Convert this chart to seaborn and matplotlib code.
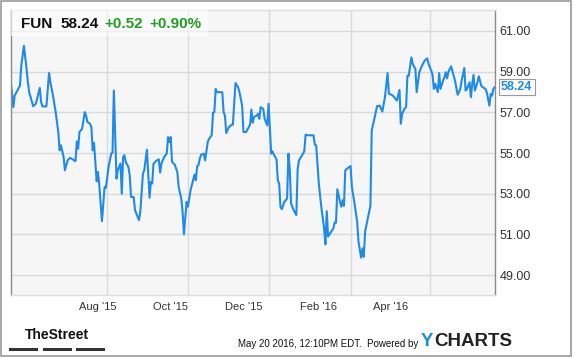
import numpy as np
import pandas as pd
import matplotlib
matplotlib.use("Agg")
import matplotlib.pyplot as plt
from matplotlib.patches import Rectangle
import seaborn as sns

# ---------------- data ----------------
ticker = "FUN"
last_price = "58.24"
change_abs = "+0.52"
change_pct = "+0.90%"
start_date = "2015-05-20"
days_since_start = [
    0, 2, 3, 7, 8, 10, 12, 13, 14, 17, 19, 22, 23, 24, 27, 29, 30, 32, 34, 36,
    37, 38, 40, 41, 43, 45, 48, 49, 50, 51, 52, 54, 56, 57, 58, 60, 61, 62, 63, 65,
    66, 67, 69, 71, 72, 74, 76, 77, 78, 79, 80, 81, 83, 84, 85, 86, 87, 89, 90, 91,
    93, 94, 97, 98, 100, 101, 103, 105, 106, 107, 108, 110, 112, 113, 114, 116, 118, 119, 120, 121,
    122, 124, 126, 127, 129, 130, 131, 133, 134, 136, 139, 140, 141, 142, 143, 144, 146, 147, 149, 150,
    152, 153, 154, 155, 156, 160, 161, 162, 163, 165, 167, 168, 170, 172, 173, 175, 176, 178, 180, 181,
    182, 183, 184, 186, 187, 188, 189, 191, 192, 194, 195, 196, 197, 198, 199, 201, 202, 203, 204, 205,
    207, 209, 210, 211, 212, 214, 216, 217, 218, 220, 222, 223, 225, 229, 230, 231, 233, 235, 237, 238,
    239, 240, 242, 244, 245, 246, 247, 249, 250, 251, 252, 253, 255, 257, 258, 260, 262, 263, 265, 266,
    267, 268, 270, 272, 273, 275, 277, 279, 281, 283, 285, 286, 288, 289, 292, 294, 295, 296, 298, 299,
    300, 301, 303, 304, 306, 307, 309, 311, 313, 315, 316, 318, 319, 320, 321, 323, 324, 325, 327, 328,
    329, 330, 331, 333, 335, 336, 338, 340, 341, 343, 344, 345, 347, 348, 349, 350, 351, 353, 354, 356,
    359, 360, 362, 363, 364, 365, 366,
]
prices = [
    58.56, 57.25, 57.82, 58.31, 59.29, 60.27, 59.13, 58.48, 57.99, 57.30, 57.42, 58.20, 57.50, 57.29, 57.29, 58.93, 58.48, 57.82, 57.01, 56.03,
    55.13, 55.38, 54.80, 54.15, 54.64, 54.76, 54.64, 54.60, 55.57, 55.21, 56.03, 56.19, 57.01, 56.84, 56.52, 56.44, 56.27, 55.13, 55.50, 53.61,
    54.07, 53.42, 51.65, 53.33, 53.29, 54.31, 54.97, 55.02, 58.07, 55.87, 53.74, 54.15, 54.48, 53.00, 54.80, 54.89, 54.56, 54.31, 53.91, 52.84,
    52.84, 52.19, 51.70, 52.11, 53.99, 54.15, 55.16, 52.80, 53.58, 53.50, 54.48, 54.61, 54.69, 54.04, 54.48, 54.80, 54.97, 55.78, 55.54, 55.78,
    54.56, 54.43, 54.07, 53.33, 52.76, 52.11, 51.00, 52.60, 52.36, 53.17, 53.94, 53.66, 54.35, 54.40, 54.72, 54.92, 54.97, 54.64, 55.54, 55.70,
    55.87, 56.98, 57.01, 58.15, 57.99, 57.99, 57.01, 56.84, 55.98, 56.27, 56.39, 56.39, 58.44, 58.23, 57.99, 57.33, 56.03, 56.03, 56.27, 56.39,
    57.14, 56.49, 56.77, 56.84, 56.93, 56.68, 57.25, 57.17, 56.68, 56.36, 57.42, 56.19, 54.97, 55.08, 54.92, 54.69, 53.66, 53.50, 52.36, 52.24,
    52.60, 52.76, 54.97, 54.23, 52.52, 52.19, 51.95, 54.23, 54.64, 54.85, 55.08, 55.90, 55.87, 55.87, 55.41, 55.38, 53.50, 52.28, 51.29, 50.51,
    52.14, 50.89, 51.10, 51.29, 51.59, 51.57, 53.22, 52.60, 52.36, 52.68, 52.40, 54.15, 54.26, 54.36, 53.33, 52.52, 51.62, 50.64, 49.86, 50.31,
    49.90, 51.13, 51.78, 52.40, 56.11, 56.68, 57.30, 57.33, 57.04, 57.74, 58.93, 57.91, 57.86, 57.82, 57.58, 58.10, 56.44, 56.93, 57.20, 57.25,
    58.80, 58.80, 59.70, 59.38, 59.13, 57.99, 58.97, 59.29, 59.54, 59.65, 59.38, 59.05, 58.84, 58.15, 58.40, 57.99, 58.93, 58.15, 58.56, 58.72,
    58.97, 58.67, 58.99, 59.26, 58.80, 58.56, 57.86, 58.15, 58.56, 59.18, 58.07, 58.15, 58.48, 57.74, 58.40, 58.84, 58.07, 58.48, 58.77, 58.28,
    58.15, 57.99, 57.33, 57.91, 57.82, 58.15, 58.24,
]
y_ticks = [49, 51, 53, 55, 57, 59, 61]
x_tick_labels = ["Aug '15", "Oct '15", "Dec '15", "Feb '16", "Apr '16"]
grid_months = ["2015-08-01", "2015-10-01", "2015-12-01", "2016-02-01", "2016-04-01"]
footer_text = "May 20 2016, 12:10PM EDT.  Powered by"

# ---------------- style ----------------
sns.set_theme(style="white")
plt.rcParams["font.family"] = ["Liberation Sans", "DejaVu Sans"]

W, H = 575, 358
fig = plt.figure(figsize=(W / 100, H / 100), dpi=100)
fig.patch.set_facecolor("white")

def fx(px):
    return px / W

def fy(py):
    return 1 - py / H

ax_l, ax_r, ax_t, ax_b = 10.7, 494.7, 10, 295
ax = fig.add_axes([fx(ax_l), fy(ax_b), fx(ax_r - ax_l), (ax_b - ax_t) / H])
ax.set_facecolor("#f6f6f6")

line_color = "#1e8be8"
start = pd.Timestamp(start_date)
df = pd.DataFrame({
    "date": start + pd.to_timedelta(days_since_start, unit="D"),
    "price": prices,
})
sns.lineplot(data=df, x="date", y="price", ax=ax, color=line_color,
             linewidth=1.5, estimator=None, sort=False)

ax.set_xlim(start, start + pd.Timedelta(days=366))
ax.set_ylim(48.02, 62.03)
ax.set_xlabel("")
ax.set_ylabel("")

# y axis on the right
ax.yaxis.tick_right()
ax.set_yticks(y_ticks)
ax.set_yticklabels([f"{v:.2f}" for v in y_ticks], fontsize=9, color="#333333")
ax.tick_params(axis="y", length=0, pad=3.5)
ax.grid(axis="y", color="#d9d9d9", linewidth=1)

# x labels (placed where the reference shows them) and month gridlines
label_pos = [start + pd.Timedelta(days=d) for d in (66, 121, 176, 233, 287)]
ax.set_xticks(label_pos)
ax.set_xticklabels(x_tick_labels, fontsize=8, color="#333333")
ax.tick_params(axis="x", length=0, pad=5)
ax.set_xticks([pd.Timestamp(m) for m in grid_months], minor=True)
ax.tick_params(axis="x", which="minor", length=0)
ax.grid(axis="x", which="minor", color="#d9d9d9", linewidth=1)
ax.grid(axis="x", which="major", visible=False)
ax.set_axisbelow(True)

for side in ("left", "right"):
    ax.spines[side].set_color("#8a8a8a")
    ax.spines[side].set_linewidth(1)
for side in ("top", "bottom"):
    ax.spines[side].set_color("#dddddd")
    ax.spines[side].set_linewidth(1)

# header box
fig.add_artist(Rectangle((fx(ax_l), fy(36)), fx(208 - ax_l), (36 - ax_t) / H,
                         transform=fig.transFigure, facecolor="white",
                         alpha=0.6, edgecolor="none", zorder=3))
hy = fy(24)
green = "#1f9e1f"
fig.text(fx(21), hy, ticker, fontsize=11, fontweight="bold", color="#111111", va="center", zorder=4)
fig.text(fx(60), hy, last_price, fontsize=11, fontweight="bold", color="#111111", va="center", zorder=4)
fig.text(fx(104), hy, change_abs, fontsize=11, fontweight="bold", color=green, va="center", zorder=4)
fig.text(fx(149), hy, change_pct, fontsize=11, fontweight="bold", color=green, va="center", zorder=4)

# last price tag
fig.text(fx(501), fy(87), last_price, fontsize=9, fontweight="bold", color=line_color,
         va="center", ha="left",
         bbox=dict(boxstyle="square,pad=0.18", facecolor="white", edgecolor="#9a9a9a", linewidth=0.8))

# footer
fig.text(fx(57), fy(335), "TheStreet", fontsize=10, fontweight="bold",
         color="#111111", ha="center", va="center")
for x0, x1 in ((9, 38), (43, 72), (76, 105)):
    fig.add_artist(Rectangle((fx(x0), fy(350.5)), fx(x1 - x0), 3 / H,
                             transform=fig.transFigure, facecolor="#333333", edgecolor="none"))
fig.text(fx(418), fy(344), footer_text, fontsize=7, color="#111111", ha="right", va="center")
fig.text(fx(421), fy(341.5), "Y", fontsize=13.5, fontweight="bold", color="#1a8be6", ha="left", va="center")
fig.text(fx(434), fy(341.5), "CHARTS", fontsize=13.5, fontweight="bold", color="#222222", ha="left", va="center")

# outer frame
fig.add_artist(Rectangle((fx(1), fy(356)), fx(570), 355 / H, transform=fig.transFigure,
                         facecolor="none", edgecolor="#9a9a9a", linewidth=1.2))

fig.savefig("out.png", dpi=100, facecolor="white")
